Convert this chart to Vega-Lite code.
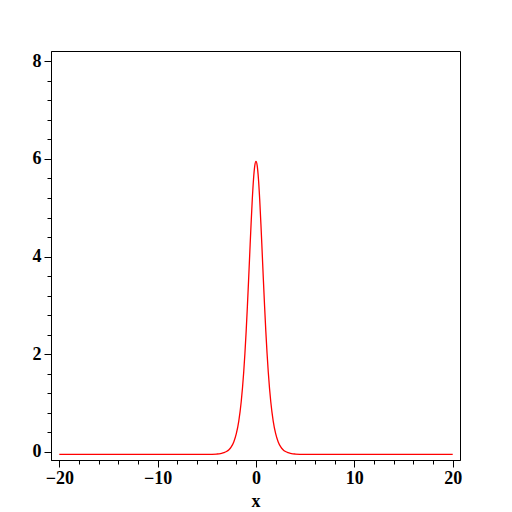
{
  "$schema": "https://vega.github.io/schema/vega-lite/v6.json",
  "autosize": "none",
  "padding": {"left": 51, "top": 51, "right": 52, "bottom": 52},
  "width": 409,
  "height": 409,
  "background": "white",
  "config": {"view": {"stroke": "black", "strokeWidth": 1}},
  "data": {"values": [
    {"x": -20, "y": -0.05},
    {"x": -6, "y": -0.05},
    {"x": -5, "y": -0.049},
    {"x": -4.5, "y": -0.047},
    {"x": -4, "y": -0.042},
    {"x": -3.75, "y": -0.037},
    {"x": -3.5, "y": -0.028},
    {"x": -3.25, "y": -0.014},
    {"x": -3, "y": 0.009},
    {"x": -2.75, "y": 0.047},
    {"x": -2.5, "y": 0.110},
    {"x": -2.25, "y": 0.211},
    {"x": -2, "y": 0.374},
    {"x": -1.75, "y": 0.633},
    {"x": -1.5, "y": 1.034},
    {"x": -1.25, "y": 1.633},
    {"x": -1.125, "y": 2.020},
    {"x": -1, "y": 2.470},
    {"x": -0.875, "y": 2.977},
    {"x": -0.75, "y": 3.530},
    {"x": -0.625, "y": 4.105},
    {"x": -0.5, "y": 4.669},
    {"x": -0.375, "y": 5.179},
    {"x": -0.25, "y": 5.590},
    {"x": -0.125, "y": 5.857},
    {"x": 0, "y": 5.95},
    {"x": 0.125, "y": 5.857},
    {"x": 0.25, "y": 5.590},
    {"x": 0.375, "y": 5.179},
    {"x": 0.5, "y": 4.669},
    {"x": 0.625, "y": 4.105},
    {"x": 0.75, "y": 3.530},
    {"x": 0.875, "y": 2.977},
    {"x": 1, "y": 2.470},
    {"x": 1.125, "y": 2.020},
    {"x": 1.25, "y": 1.633},
    {"x": 1.5, "y": 1.034},
    {"x": 1.75, "y": 0.633},
    {"x": 2, "y": 0.374},
    {"x": 2.25, "y": 0.211},
    {"x": 2.5, "y": 0.110},
    {"x": 2.75, "y": 0.047},
    {"x": 3, "y": 0.009},
    {"x": 3.25, "y": -0.014},
    {"x": 3.5, "y": -0.028},
    {"x": 3.75, "y": -0.037},
    {"x": 4, "y": -0.042},
    {"x": 4.5, "y": -0.047},
    {"x": 5, "y": -0.049},
    {"x": 6, "y": -0.05},
    {"x": 20, "y": -0.05}
  ]},
  "mark": {"type": "line", "color": "#ff0000", "strokeWidth": 1.3, "interpolate": "monotone", "clip": true},
  "encoding": {
    "x": {
      "field": "x", "type": "quantitative",
      "scale": {"domain": [-20.84, 20.74], "nice": false, "zero": false},
      "axis": {
        "values": [-20, -18, -16, -14, -12, -10, -8, -6, -4, -2, 0, 2, 4, 6, 8, 10, 12, 14, 16, 18, 20],
        "format": "~g",
        "labelExpr": "datum.value % 10 === 0 ? datum.label : ''",
        "tickSize": {"condition": {"test": "datum.value % 10 === 0", "value": 7}, "value": 4},
        "tickColor": "black", "domainColor": "black", "grid": false,
        "labelFont": "Liberation Serif", "labelFontSize": 18, "labelFontWeight": "bold", "labelColor": "black",
        "labelPadding": 2, "labelFlush": false,
        "title": "x", "titleFont": "Liberation Serif", "titleFontSize": 18, "titleFontWeight": "bold", "titleColor": "black", "titlePadding": 5
      }
    },
    "y": {
      "field": "y", "type": "quantitative",
      "scale": {"domain": [-0.164, 8.21], "nice": false, "zero": false},
      "axis": {
        "values": [0, 0.4, 0.8, 1.2, 1.6, 2, 2.4, 2.8, 3.2, 3.6, 4, 4.4, 4.8, 5.2, 5.6, 6, 6.4, 6.8, 7.2, 7.6, 8],
        "format": "~g",
        "labelExpr": "datum.value % 2 === 0 ? datum.label : ''",
        "tickSize": {"condition": {"test": "datum.value % 2 === 0", "value": 7}, "value": 4},
        "tickColor": "black", "domainColor": "black", "grid": false,
        "labelFont": "Liberation Serif", "labelFontSize": 18, "labelFontWeight": "bold", "labelColor": "black",
        "labelPadding": 3, "labelFlush": false,
        "title": null
      }
    }
  }
}
